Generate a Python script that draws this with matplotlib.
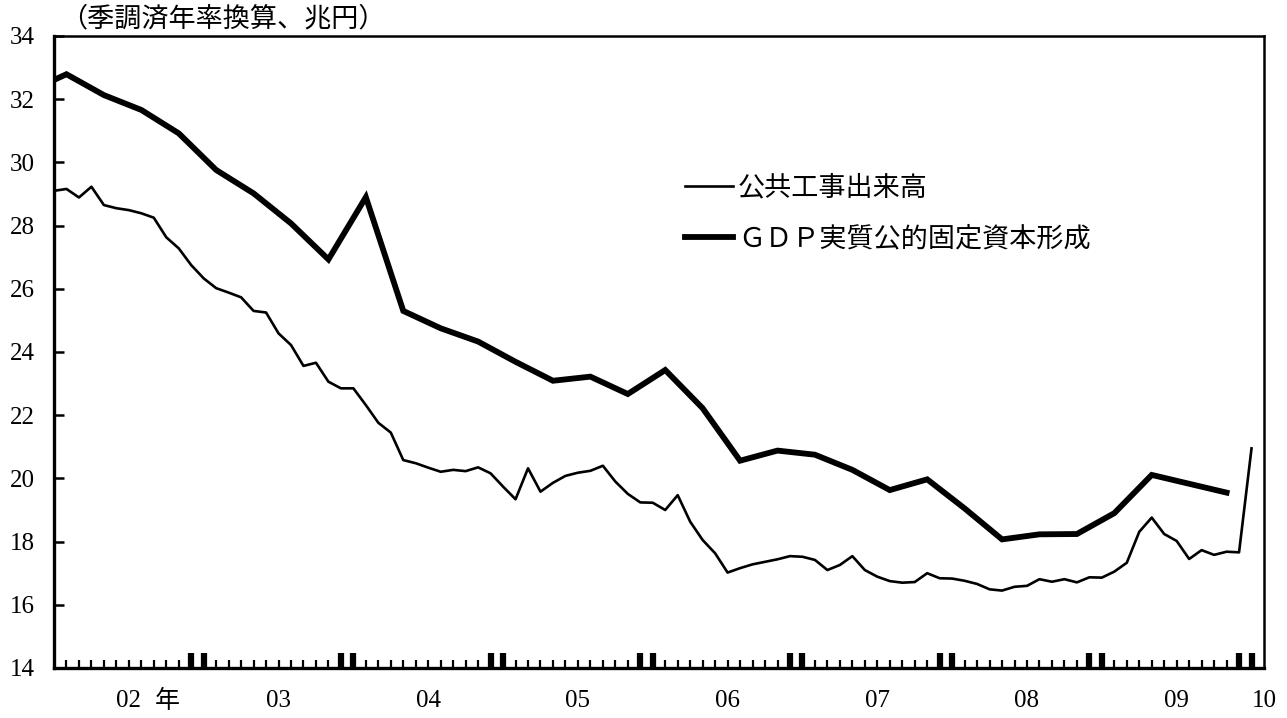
import numpy as np
import matplotlib.pyplot as plt
from matplotlib.ticker import FixedLocator

plt.rcParams['font.family'] = ['Liberation Serif', 'Noto Sans CJK JP']

# 公共工事出来高: monthly, 2002/1 .. 2010/1 (month index 0..96)
works = [29.10, 29.16, 28.89, 29.23, 28.65, 28.55, 28.49, 28.39, 28.25, 27.63, 27.28, 26.75,
         26.33, 26.02, 25.88, 25.73, 25.30, 25.25, 24.59, 24.22, 23.56, 23.66, 23.06, 22.85,
         22.85, 22.32, 21.76, 21.45, 20.58, 20.48, 20.34, 20.21, 20.27, 20.23, 20.35, 20.16,
         19.74, 19.34, 20.32, 19.58, 19.86, 20.08, 20.18, 20.24, 20.40, 19.90, 19.51, 19.24,
         19.23, 19.00, 19.47, 18.63, 18.05, 17.63, 17.02, 17.16, 17.28, 17.36, 17.44, 17.54,
         17.52, 17.42, 17.10, 17.26, 17.54, 17.10, 16.89, 16.75, 16.70, 16.72, 17.00, 16.84,
         16.83, 16.76, 16.66, 16.49, 16.45, 16.57, 16.60, 16.81, 16.73, 16.81, 16.71, 16.87,
         16.86, 17.05, 17.33, 18.31, 18.76, 18.24, 18.02, 17.45, 17.73, 17.58, 17.68, 17.66,
         20.95]

# GDP実質公的固定資本形成: quarterly, plotted at mid-quarter month (01Q4 .. 09Q4)
gdp = [32.25, 32.79, 32.13, 31.66, 30.92, 29.76, 29.02, 28.07, 26.93, 28.90, 25.30,
       24.75, 24.33, 23.69, 23.09, 23.22, 22.67, 23.43, 22.22, 20.56, 20.88, 20.75,
       20.27, 19.63, 19.97, 19.05, 18.07, 18.23, 18.24, 18.90, 20.11, 19.83, 19.55]

year_labels = ['02', '03', '04', '05', '06', '07', '08', '09', '10']

works_x = np.arange(len(works))
gdp_x = np.arange(len(gdp)) * 3 - 2

fig = plt.figure(figsize=(12.87, 7.18), dpi=100)
ax = fig.add_axes([54 / 1287, 50 / 718, 1210 / 1287, 632 / 718])

ax.plot(works_x, works, color='black', lw=1.9, label='公共工事出来高')
ax.plot(gdp_x, gdp, color='black', lw=4.2, label='ＧＤＰ実質公的固定資本形成',
        solid_joinstyle='miter')

ax.set_xlim(0, 97)
ax.set_ylim(14, 34)
ax.set_yticks(np.arange(14, 35, 2))
ax.tick_params(axis='y', direction='in', length=7, width=1.8, labelsize=18, pad=14)

# month ticks: thick pair at each Dec/Jan, thin ones elsewhere
bounds = [m for y in range(8) for m in (12 * y + 11, 12 * y + 12)]
thin = [m for m in range(1, 97) if m not in bounds]
ax.xaxis.set_major_locator(FixedLocator(bounds))
ax.xaxis.set_minor_locator(FixedLocator(thin))
ax.tick_params(axis='x', which='major', direction='in', length=11, width=4.5,
               labelbottom=False)
ax.tick_params(axis='x', which='minor', direction='in', length=6, width=1.6)

label_x = [12 * i + 6 for i in range(8)] + [97]
for x, s in zip(label_x, year_labels):
    ax.text(x, -0.053, s, transform=ax.get_xaxis_transform(), ha='center', va='center',
            fontsize=18)
ax.text(9.1, -0.053, '年', transform=ax.get_xaxis_transform(), ha='center', va='center',
        fontsize=18, family='Noto Sans CJK JP')

for side in ['left', 'bottom']:
    ax.spines[side].set_linewidth(2.4)
for side in ['top', 'right']:
    ax.spines[side].set_linewidth(1.8)

fig.text(60 / 1287, 1 - 19 / 718, '（季調済年率換算、兆円）', ha='left', va='center',
         fontsize=19.5, family='Noto Sans CJK JP')

ax.legend(loc='upper left', bbox_to_anchor=(685 / 1287, 1 - 174 / 718),
          bbox_transform=fig.transFigure, frameon=False, handlelength=1.77,
          handletextpad=0.18, labelspacing=0.9, borderpad=0, borderaxespad=0,
          prop={'family': 'Noto Sans CJK JP', 'size': 19.5})

fig.savefig('out.png', dpi=100)
